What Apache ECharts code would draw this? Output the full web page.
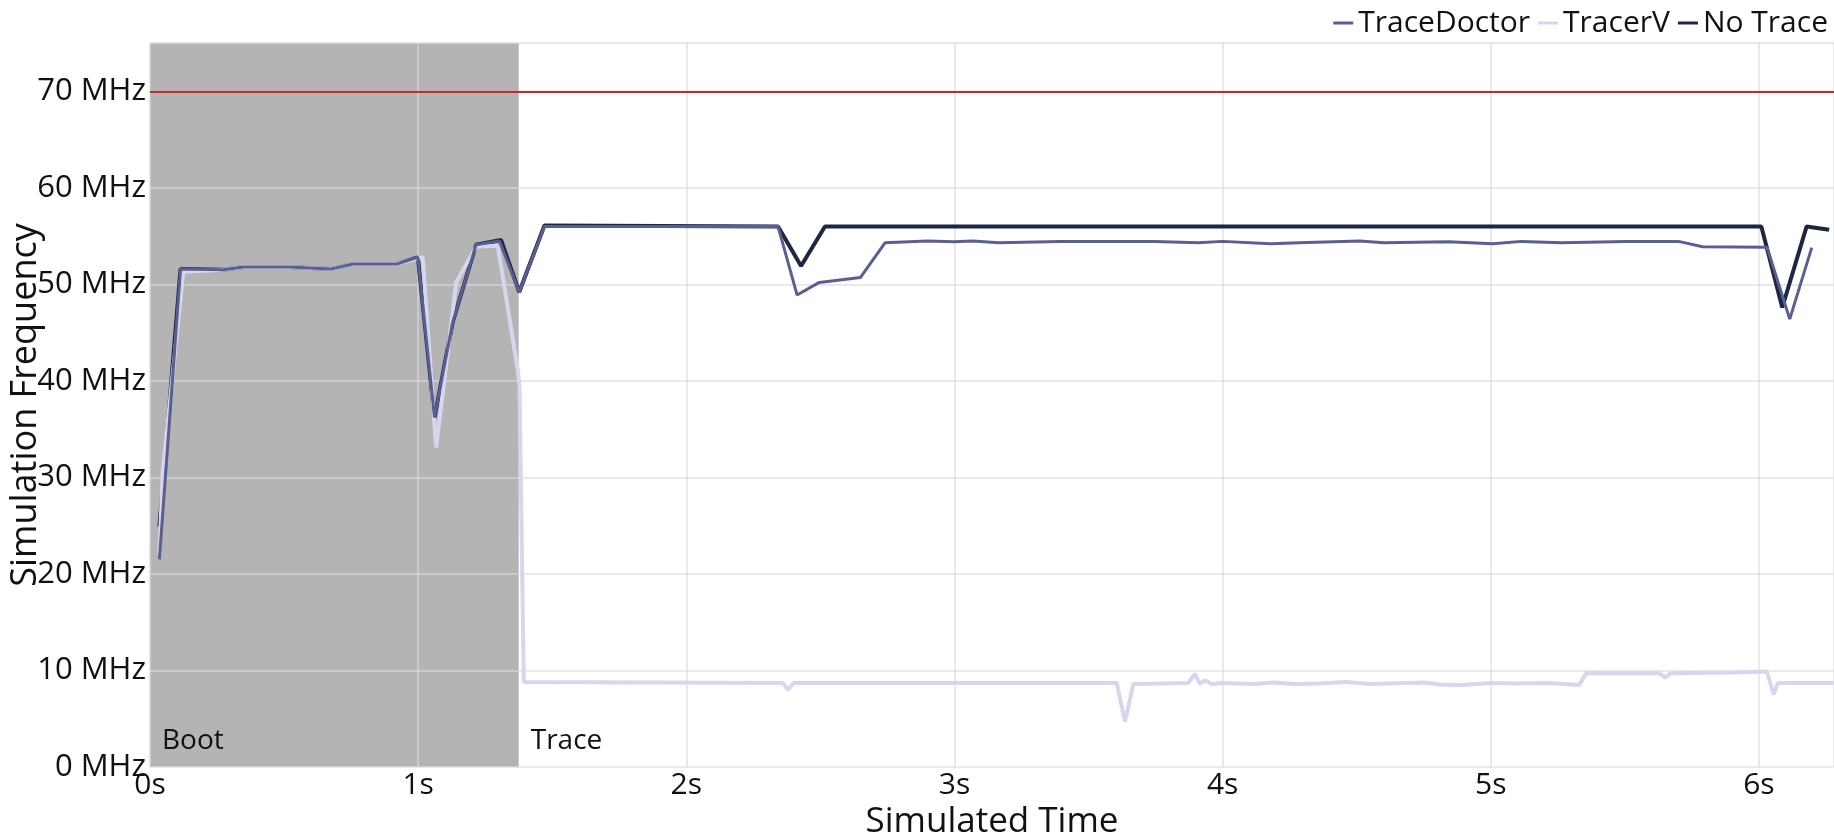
<!DOCTYPE html>
<html>
<head>
<meta charset="utf-8">
<script src="https://cdn.jsdelivr.net/npm/echarts@6/dist/echarts.min.js"></script>
<style>
  html, body { margin: 0; padding: 0; background: #fff; }
  #chart { width: 1834px; height: 834px; }
</style>
</head>
<body>
<div id="chart"></div>
<script>
// Simulated time (s) / simulation frequency (MHz) samples per configuration
const traceDoctorT = [0.035, 0.114, 0.273, 0.348, 0.521, 0.676, 0.757, 0.918, 0.999, 1.061, 1.129, 1.216, 1.303, 1.377, 1.471, 2.342, 2.413, 2.496, 2.649, 2.741, 2.899, 2.998, 3.07, 3.165, 3.397, 3.746, 3.909, 3.999, 4.18, 4.285, 4.511, 4.602, 4.842, 5.008, 5.114, 5.264, 5.505, 5.70, 5.79, 6.03, 6.115, 6.197];
const traceDoctorF = [21.5, 51.6, 51.5, 51.8, 51.8, 51.6, 52.1, 52.1, 52.8, 36.2, 46.1, 54.1, 54.5, 49.2, 56.0, 56.0, 48.9, 50.2, 50.7, 54.3, 54.5, 54.4, 54.5, 54.3, 54.45, 54.45, 54.3, 54.45, 54.2, 54.3, 54.5, 54.3, 54.4, 54.2, 54.45, 54.3, 54.45, 54.45, 53.9, 53.85, 46.4, 53.8];

const tracerVT = [0.035, 0.047, 0.124, 0.273, 0.348, 0.521, 0.676, 0.757, 0.918, 1.017, 1.067, 1.142, 1.216, 1.297, 1.371, 1.378, 1.394, 2.36, 2.38, 2.40, 3.605, 3.636, 3.667, 3.872, 3.897, 3.915, 3.934, 3.959, 3.996, 4.12, 4.19, 4.27, 4.36, 4.46, 4.55, 4.75, 4.81, 4.89, 4.95, 5.0, 5.09, 5.21, 5.33, 5.357, 5.45, 5.63, 5.65, 5.67, 5.9, 6.03, 6.055, 6.07, 6.28];
const tracerVF = [22.0, 30.5, 51.3, 51.5, 51.8, 51.8, 51.6, 52.1, 52.1, 52.8, 33.1, 50.2, 53.9, 54.0, 41.2, 39.5, 8.8, 8.7, 8.0, 8.7, 8.7, 4.7, 8.6, 8.7, 9.65, 8.6, 9.0, 8.6, 8.7, 8.6, 8.75, 8.6, 8.65, 8.8, 8.6, 8.75, 8.55, 8.5, 8.6, 8.7, 8.65, 8.7, 8.5, 9.75, 9.7, 9.7, 9.25, 9.7, 9.8, 9.9, 7.5, 8.7, 8.7];

const noTraceT = [0.035, 0.114, 0.273, 0.348, 0.521, 0.676, 0.757, 0.918, 0.999, 1.061, 1.129, 1.216, 1.309, 1.377, 1.471, 2.342, 2.428, 2.517, 6.009, 6.087, 6.178, 6.262];
const noTraceF = [24.9, 51.6, 51.5, 51.8, 51.8, 51.6, 52.1, 52.1, 52.8, 36.2, 46.1, 54.1, 54.6, 49.2, 56.1, 56.0, 51.9, 56.0, 56.0, 47.6, 56.0, 55.65];

// Phases and the frequency target
const bootEnd = 1.375;
const timeMax = 6.28;
const targetFreq = 70;
const phaseNames = ['Boot', 'Trace'];

const pairs = (t, f) => t.map((x, i) => [x, f[i]]);
const FONT = '"Open Sans", "Noto Sans", sans-serif';

const chart = echarts.init(document.getElementById('chart'), null, { renderer: 'canvas' });

const phaseLabel = (text) => ({
  show: true,
  position: 'insideBottomLeft',
  distance: 12,
  formatter: text,
  color: '#111',
  fontSize: 28,
  fontFamily: FONT
});

const gridLine = { show: true, lineStyle: { color: 'rgba(218,218,226,0.8)', width: 1.5 } };

chart.setOption({
  animation: false,
  backgroundColor: '#fff',
  textStyle: { fontFamily: FONT },
  grid: { left: 150, right: 0, top: 43, bottom: 67, containLabel: false, outerBoundsMode: 'none' },
  legend: {
    top: 4,
    right: 2,
    padding: 4,
    data: ['TraceDoctor', 'TracerV', 'No Trace'],
    icon: 'rect',
    itemWidth: 20,
    itemHeight: 3,
    itemGap: 8,
    textStyle: { fontSize: 30, color: '#111', fontFamily: FONT }
  },
  xAxis: {
    type: 'value',
    min: 0,
    max: timeMax,
    interval: 1,
    z: 1,
    name: 'Simulated Time',
    nameLocation: 'middle',
    nameGap: 38,
    nameMoveOverlap: false,
    nameTextStyle: { fontSize: 35, color: '#111', fontFamily: FONT },
    axisLine: { show: false },
    axisTick: { show: false },
    axisLabel: {
      margin: 3,
      fontSize: 30,
      color: '#111',
      fontFamily: FONT,
      formatter: v => (Math.abs(v - Math.round(v)) < 1e-9 ? Math.round(v) + 's' : '')
    },
    splitLine: gridLine
  },
  yAxis: {
    type: 'value',
    min: 0,
    max: 75,
    interval: 10,
    z: 1,
    name: 'Simulation Frequency',
    nameLocation: 'middle',
    nameGap: 106,
    nameMoveOverlap: false,
    nameRotate: 90,
    nameTextStyle: { fontSize: 36, color: '#111', fontFamily: FONT },
    axisLine: { show: false },
    axisTick: { show: false },
    axisLabel: {
      margin: 4,
      fontSize: 31,
      color: '#111',
      fontFamily: FONT,
      formatter: v => (v % 10 === 0 ? v + ' MHz' : '')
    },
    splitLine: gridLine
  },
  series: [
    {
      // Phase shading sits beneath the grid lines
      name: 'phases',
      type: 'line',
      data: [],
      z: 0,
      silent: true,
      markArea: {
        silent: true,
        z: 0,
        data: [
          [{ xAxis: 0, itemStyle: { color: '#b4b4b4' }, label: phaseLabel(phaseNames[0]) },
           { xAxis: bootEnd }],
          [{ xAxis: bootEnd, itemStyle: { color: 'rgba(0,0,0,0)' }, label: phaseLabel(phaseNames[1]) },
           { xAxis: timeMax }]
        ]
      }
    },
    {
      name: 'No Trace',
      type: 'line',
      data: pairs(noTraceT, noTraceF),
      symbol: 'none',
      color: '#1e2640',
      lineStyle: { width: 4, color: '#1e2640' },
      z: 3,
      markLine: {
        silent: true,
        symbol: 'none',
        label: { show: false },
        lineStyle: { color: '#c42a2c', width: 2, type: 'solid' },
        data: [{ yAxis: targetFreq }]
      }
    },
    {
      name: 'TracerV',
      type: 'line',
      data: pairs(tracerVT, tracerVF),
      symbol: 'none',
      color: '#d8d6ee',
      lineStyle: { width: 4, color: '#d8d6ee' },
      z: 4
    },
    {
      name: 'TraceDoctor',
      type: 'line',
      data: pairs(traceDoctorT, traceDoctorF),
      symbol: 'none',
      color: '#5a5f91',
      lineStyle: { width: 3, color: '#5a5f91' },
      z: 5
    }
  ]
});
</script>
</body>
</html>
